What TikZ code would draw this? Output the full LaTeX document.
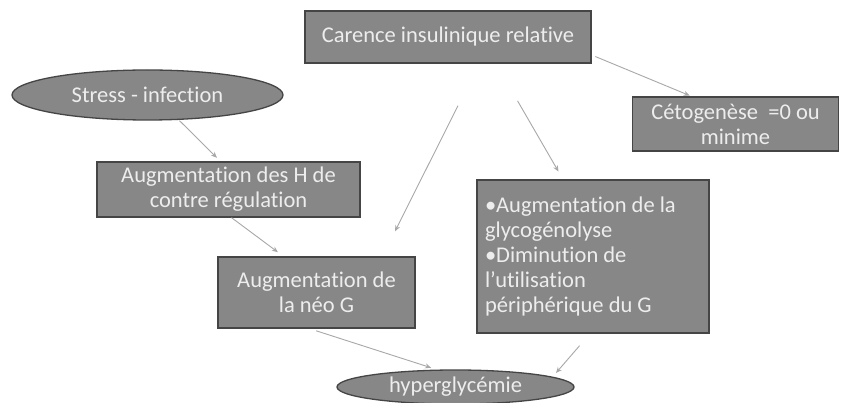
\documentclass[tikz,border=0pt]{standalone}
\usepackage{fontspec}
\setmainfont{Carlito}[Ligatures=NoCommon]
\usepackage{xcolor}
\usepackage{tikz}
\usetikzlibrary{arrows.meta,shapes.geometric}

\definecolor{boxfill}{HTML}{878787}
\definecolor{boxedge}{HTML}{454545}
\definecolor{boxtext}{HTML}{EDEDED}
\definecolor{linkgray}{HTML}{A8A8A8}

\begin{document}
\begin{tikzpicture}[x=1pt, y=-1pt, font=\fontsize{22.5}{25}\selectfont,
  box/.style={draw=boxedge, line width=1.3pt, fill=boxfill, text=boxtext, align=center, inner sep=3pt},
  oval/.style={ellipse, draw=boxedge, line width=1.3pt, fill=boxfill, text=boxtext, inner sep=0pt},
  arrow/.style={-{Stealth[length=6pt, width=5pt]}, draw=linkgray, line width=0.9pt}]
\fill[white] (0,0) rectangle (843,403);
\useasboundingbox (0,0) rectangle (843,403);
\node[box, minimum width=286pt, minimum height=52pt] (carence) at (448,37) {Carence insulinique relative};
\node[oval, minimum width=271pt, minimum height=50pt] (stress) at (147.5,95) {Stress - infection};
\node[box, minimum width=263pt, minimum height=55pt] (contre) at (228.5,189.5) {Augmentation des H de\\contre régulation};
\node[box, minimum width=197pt, minimum height=71pt] (neo) at (316.5,292.5) {Augmentation de\\la néo G};
\node[box, text width=216pt, inner xsep=8pt, align=flush left, minimum height=153pt] (glyco) at (593,256.5) {•Augmentation de la\\glycogénolyse\\•Diminution de\\l’utilisation\\périphérique du G};
\node[box, minimum width=206pt, minimum height=54pt] (ceto) at (735.5,124) {Cétogenèse~ =0 ou\\minime};
\node[oval, minimum width=237pt, minimum height=34pt] (hyper) at (455.5,387) {hyperglycémie};
\draw[arrow, shorten >=5pt] ([xshift=32pt]stress.south) -- ([xshift=-8pt]contre.north);
\draw[arrow, shorten >=7pt] ([xshift=3pt]contre.south) -- ([xshift=-33pt]neo.north);
\draw[arrow, shorten <=47pt, shorten >=28pt] ([xshift=31pt]carence.south) -- ([xshift=66pt]neo.north);
\draw[arrow, shorten <=43pt, shorten >=9pt] ([xshift=48pt]carence.south) -- ([xshift=-30pt]glyco.north);
\draw[arrow, shorten <=4pt, shorten >=2pt] ([yshift=-18pt]carence.east) -- ([xshift=-44pt]ceto.north);
\draw[arrow, shorten <=7pt, shorten >=6pt] ([xshift=-7pt]neo.south) -- (hyper.137);
\draw[arrow, shorten <=16pt, shorten >=5pt] ([xshift=-3pt]glyco.south) -- (hyper.6);
\end{tikzpicture}
\end{document}
